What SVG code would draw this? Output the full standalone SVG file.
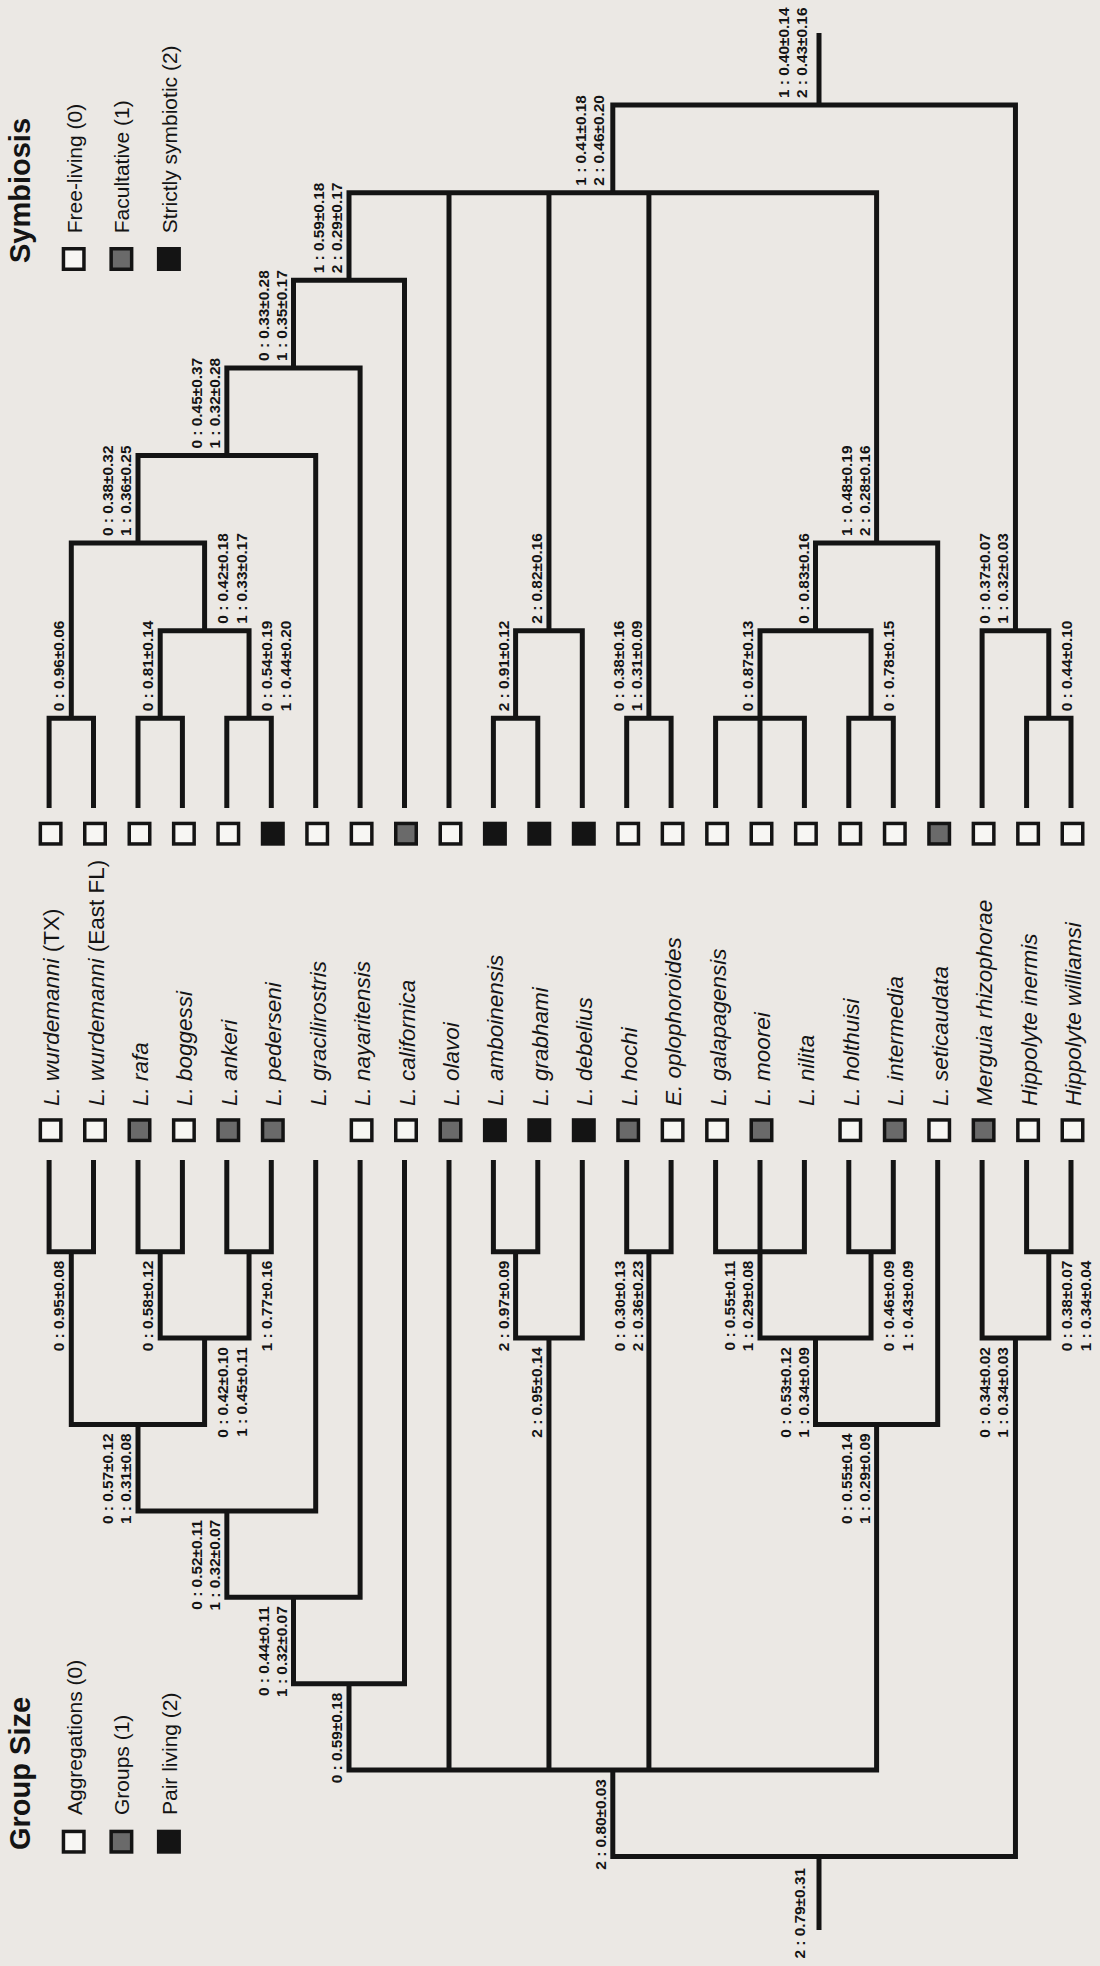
<svg xmlns="http://www.w3.org/2000/svg" width="1100" height="1966" viewBox="0 0 1100 1966">
<style>
.br{fill:none;stroke:#141414;stroke-width:5;stroke-linejoin:miter;stroke-linecap:butt}
.lt{font-family:"Liberation Sans",Arial,sans-serif;font-weight:bold;font-size:15.4px;fill:#141414}
.tx{font-family:"Liberation Sans",Arial,sans-serif;font-size:22.5px;font-style:italic;fill:#141414}
.up{font-style:normal}
.ttl{font-family:"Liberation Sans",Arial,sans-serif;font-weight:bold;font-size:29px;fill:#141414}
.lg{font-family:"Liberation Sans",Arial,sans-serif;font-size:21px;fill:#141414}
.s0{fill:#f7f6f3;stroke:#141414;stroke-width:3.5}
.s1{fill:#6a6a6a;stroke:#141414;stroke-width:3.5}
.s2{fill:#141414;stroke:#141414;stroke-width:3.5}
</style>
<rect x="0" y="0" width="1100" height="1966" fill="#ebe8e4"/>

<!-- Legends -->
<g id="legend-symbiosis">
<text class="ttl" transform="translate(29.8,263) rotate(-90)">Symbiosis</text>
<rect class="s0" x="63.45" y="248.75" width="20.5" height="20.5"/>
<rect class="s1" x="111.15" y="248.75" width="20.5" height="20.5"/>
<rect class="s2" x="158.65" y="248.75" width="20.5" height="20.5"/>
<text class="lg" transform="translate(81.5,233.3) rotate(-90)">Free-living (0)</text>
<text class="lg" transform="translate(129.4,233.3) rotate(-90)">Facultative (1)</text>
<text class="lg" transform="translate(177,233.3) rotate(-90)">Strictly symbiotic (2)</text>
</g>
<g id="legend-groupsize">
<text class="ttl" transform="translate(29.8,1850) rotate(-90)">Group Size</text>
<rect class="s0" x="63.45" y="1831.45" width="20.5" height="20.5"/>
<rect class="s1" x="111.15" y="1831.45" width="20.5" height="20.5"/>
<rect class="s2" x="158.65" y="1831.45" width="20.5" height="20.5"/>
<text class="lg" transform="translate(81.5,1815) rotate(-90)">Aggregations (0)</text>
<text class="lg" transform="translate(129.4,1815) rotate(-90)">Groups (1)</text>
<text class="lg" transform="translate(177,1815) rotate(-90)">Pair living (2)</text>
</g>

<!-- Connectors: symbiosis tree (top) and group size tree (bottom) -->
<g id="connectors">
<g id="tree-symbiosis">
<path class="br" d="M49.1 808V718.3H93.5V808"/>
<path class="br" d="M138 808V718.3H182.4V808"/>
<path class="br" d="M226.8 808V718.3H271.3V808"/>
<path class="br" d="M160.2 718.3V630.7H249.05V718.3"/>
<path class="br" d="M71.3 718.3V543.1H204.6V630.7"/>
<path class="br" d="M138 543.1V455.5H315.7V808"/>
<path class="br" d="M226.85 455.5V367.9H360.1V808"/>
<path class="br" d="M293.5 367.9V280.3H404.5V808"/>
<path class="br" d="M493.4 808V718.3H537.8V808"/>
<path class="br" d="M515.6 718.3V630.7H582.3V808"/>
<path class="br" d="M626.7 808V718.3H671.1V808"/>
<path class="br" d="M715.6 808V718.3H804.4V808M760 808V718.3"/>
<path class="br" d="M848.8 808V718.3H893.3V808"/>
<path class="br" d="M760 718.3V630.7H871.05V718.3"/>
<path class="br" d="M815.5 630.7V543.1H937.7V808"/>
<path class="br" d="M349 280.3V192.7H876.6V543.1M449 808V192.7M548.95 630.7V192.7M648.9 718.3V192.7"/>
<path class="br" d="M1026.6 808V718.3H1071V808"/>
<path class="br" d="M982.1 808V630.7H1048.8V718.3"/>
<path class="br" d="M612.8 192.7V105.1H1015.45V630.7M819 105.1V33"/>
</g>
<g id="tree-groupsize">
<path class="br" d="M49.1 1160V1251.7H93.5V1160"/>
<path class="br" d="M138 1160V1251.7H182.4V1160"/>
<path class="br" d="M226.8 1160V1251.7H271.3V1160"/>
<path class="br" d="M160.2 1251.7V1338.1H249.05V1251.7"/>
<path class="br" d="M71.3 1251.7V1424.5H204.6V1338.1"/>
<path class="br" d="M138 1424.5V1510.9H315.7V1160"/>
<path class="br" d="M226.85 1510.9V1597.3H360.1V1160"/>
<path class="br" d="M293.5 1597.3V1683.7H404.5V1160"/>
<path class="br" d="M493.4 1160V1251.7H537.8V1160"/>
<path class="br" d="M515.6 1251.7V1338.1H582.3V1160"/>
<path class="br" d="M626.7 1160V1251.7H671.1V1160"/>
<path class="br" d="M715.6 1160V1251.7H804.4V1160M760 1160V1251.7"/>
<path class="br" d="M848.8 1160V1251.7H893.3V1160"/>
<path class="br" d="M760 1251.7V1338.1H871.05V1251.7"/>
<path class="br" d="M815.5 1338.1V1424.5H937.7V1160"/>
<path class="br" d="M349 1683.7V1770.1H876.6V1424.5M449 1160V1770.1M548.95 1338.1V1770.1M648.9 1251.7V1770.1"/>
<path class="br" d="M1026.6 1160V1251.7H1071V1160"/>
<path class="br" d="M982.1 1160V1338.1H1048.8V1251.7"/>
<path class="br" d="M612.8 1770.1V1856.5H1015.45V1338.1M819 1856.5V1930"/>
</g>
</g>

<!-- Node value labels: symbiosis -->
<g id="labels-symbiosis" class="lt">
<text transform="translate(64.3,711.3) rotate(-90)">0 : 0.96±0.06</text>
<text transform="translate(153.2,711.3) rotate(-90)">0 : 0.81±0.14</text>
<text transform="translate(272.05,711.3) rotate(-90)">0 : 0.54±0.19</text>
<text transform="translate(291.05,711.3) rotate(-90)">1 : 0.44±0.20</text>
<text transform="translate(227.6,623.7) rotate(-90)">0 : 0.42±0.18</text>
<text transform="translate(246.6,623.7) rotate(-90)">1 : 0.33±0.17</text>
<text transform="translate(113,536.1) rotate(-90)">0 : 0.38±0.32</text>
<text transform="translate(131,536.1) rotate(-90)">1 : 0.36±0.25</text>
<text transform="translate(201.85,448.5) rotate(-90)">0 : 0.45±0.37</text>
<text transform="translate(219.85,448.5) rotate(-90)">1 : 0.32±0.28</text>
<text transform="translate(268.5,360.9) rotate(-90)">0 : 0.33±0.28</text>
<text transform="translate(286.5,360.9) rotate(-90)">1 : 0.35±0.17</text>
<text transform="translate(324,273.3) rotate(-90)">1 : 0.59±0.18</text>
<text transform="translate(342,273.3) rotate(-90)">2 : 0.29±0.17</text>
<text transform="translate(508.6,711.3) rotate(-90)">2 : 0.91±0.12</text>
<text transform="translate(541.95,623.7) rotate(-90)">2 : 0.82±0.16</text>
<text transform="translate(623.9,711.3) rotate(-90)">0 : 0.38±0.16</text>
<text transform="translate(641.9,711.3) rotate(-90)">1 : 0.31±0.09</text>
<text transform="translate(753,711.3) rotate(-90)">0 : 0.87±0.13</text>
<text transform="translate(894.05,711.3) rotate(-90)">0 : 0.78±0.15</text>
<text transform="translate(808.5,623.7) rotate(-90)">0 : 0.83±0.16</text>
<text transform="translate(851.6,536.1) rotate(-90)">1 : 0.48±0.19</text>
<text transform="translate(869.6,536.1) rotate(-90)">2 : 0.28±0.16</text>
<text transform="translate(586,185.7) rotate(-90)">1 : 0.41±0.18</text>
<text transform="translate(604,185.7) rotate(-90)">2 : 0.46±0.20</text>
<text transform="translate(1071.8,711.3) rotate(-90)">0 : 0.44±0.10</text>
<text transform="translate(990.45,623.7) rotate(-90)">0 : 0.37±0.07</text>
<text transform="translate(1008.45,623.7) rotate(-90)">1 : 0.32±0.03</text>
<text transform="translate(789,98.1) rotate(-90)">1 : 0.40±0.14</text>
<text transform="translate(807,98.1) rotate(-90)">2 : 0.43±0.16</text>
</g>

<!-- Node value labels: group size -->
<g id="labels-groupsize" class="lt" text-anchor="end">
<text transform="translate(64.3,1260.7) rotate(-90)">0 : 0.95±0.08</text>
<text transform="translate(153.2,1260.7) rotate(-90)">0 : 0.58±0.12</text>
<text transform="translate(272.05,1260.7) rotate(-90)">1 : 0.77±0.16</text>
<text transform="translate(227.6,1347.1) rotate(-90)">0 : 0.42±0.10</text>
<text transform="translate(246.6,1347.1) rotate(-90)">1 : 0.45±0.11</text>
<text transform="translate(113,1433.5) rotate(-90)">0 : 0.57±0.12</text>
<text transform="translate(131,1433.5) rotate(-90)">1 : 0.31±0.08</text>
<text transform="translate(201.85,1519.9) rotate(-90)">0 : 0.52±0.11</text>
<text transform="translate(219.85,1519.9) rotate(-90)">1 : 0.32±0.07</text>
<text transform="translate(268.5,1606.3) rotate(-90)">0 : 0.44±0.11</text>
<text transform="translate(286.5,1606.3) rotate(-90)">1 : 0.32±0.07</text>
<text transform="translate(342,1692.7) rotate(-90)">0 : 0.59±0.18</text>
<text transform="translate(508.6,1260.7) rotate(-90)">2 : 0.97±0.09</text>
<text transform="translate(541.95,1347.1) rotate(-90)">2 : 0.95±0.14</text>
<text transform="translate(625,1260.7) rotate(-90)">0 : 0.30±0.13</text>
<text transform="translate(643,1260.7) rotate(-90)">2 : 0.36±0.23</text>
<text transform="translate(735,1260.7) rotate(-90)">0 : 0.55±0.11</text>
<text transform="translate(753,1260.7) rotate(-90)">1 : 0.29±0.08</text>
<text transform="translate(894.05,1260.7) rotate(-90)">0 : 0.46±0.09</text>
<text transform="translate(913.05,1260.7) rotate(-90)">1 : 0.43±0.09</text>
<text transform="translate(790.5,1347.1) rotate(-90)">0 : 0.53±0.12</text>
<text transform="translate(808.5,1347.1) rotate(-90)">1 : 0.34±0.09</text>
<text transform="translate(851.6,1433.5) rotate(-90)">0 : 0.55±0.14</text>
<text transform="translate(869.6,1433.5) rotate(-90)">1 : 0.29±0.09</text>
<text transform="translate(605.8,1779.1) rotate(-90)">2 : 0.80±0.03</text>
<text transform="translate(1071.8,1260.7) rotate(-90)">0 : 0.38±0.07</text>
<text transform="translate(1090.8,1260.7) rotate(-90)">1 : 0.34±0.04</text>
<text transform="translate(990.45,1347.1) rotate(-90)">0 : 0.34±0.02</text>
<text transform="translate(1008.45,1347.1) rotate(-90)">1 : 0.34±0.03</text>
<text transform="translate(805,1868) rotate(-90)">2 : 0.79±0.31</text>
</g>

<!-- Taxa -->
<g id="taxon-0"><rect class="s0" x="40.35" y="823.45" width="20.5" height="20.5"/><rect class="s0" x="40.35" y="1119.95" width="20.5" height="20.5"/><text class="tx" transform="translate(59.1,1106) rotate(-90)">L. wurdemanni<tspan class="up"> (TX)</tspan></text></g>
<g id="taxon-1"><rect class="s0" x="84.75" y="823.45" width="20.5" height="20.5"/><rect class="s0" x="84.75" y="1119.95" width="20.5" height="20.5"/><text class="tx" transform="translate(103.5,1106) rotate(-90)">L. wurdemanni<tspan class="up"> (East FL)</tspan></text></g>
<g id="taxon-2"><rect class="s0" x="129.25" y="823.45" width="20.5" height="20.5"/><rect class="s1" x="129.25" y="1119.95" width="20.5" height="20.5"/><text class="tx" transform="translate(148,1106) rotate(-90)">L. rafa</text></g>
<g id="taxon-3"><rect class="s0" x="173.65" y="823.45" width="20.5" height="20.5"/><rect class="s0" x="173.65" y="1119.95" width="20.5" height="20.5"/><text class="tx" transform="translate(192.4,1106) rotate(-90)">L. boggessi</text></g>
<g id="taxon-4"><rect class="s0" x="218.05" y="823.45" width="20.5" height="20.5"/><rect class="s1" x="218.05" y="1119.95" width="20.5" height="20.5"/><text class="tx" transform="translate(236.8,1106) rotate(-90)">L. ankeri</text></g>
<g id="taxon-5"><rect class="s2" x="262.55" y="823.45" width="20.5" height="20.5"/><rect class="s1" x="262.55" y="1119.95" width="20.5" height="20.5"/><text class="tx" transform="translate(281.3,1106) rotate(-90)">L. pederseni</text></g>
<g id="taxon-6"><rect class="s0" x="306.95" y="823.45" width="20.5" height="20.5"/><text class="tx" transform="translate(325.7,1106) rotate(-90)">L. gracilirostris</text></g>
<g id="taxon-7"><rect class="s0" x="351.35" y="823.45" width="20.5" height="20.5"/><rect class="s0" x="351.35" y="1119.95" width="20.5" height="20.5"/><text class="tx" transform="translate(370.1,1106) rotate(-90)">L. nayaritensis</text></g>
<g id="taxon-8"><rect class="s1" x="395.75" y="823.45" width="20.5" height="20.5"/><rect class="s0" x="395.75" y="1119.95" width="20.5" height="20.5"/><text class="tx" transform="translate(414.5,1106) rotate(-90)">L. californica</text></g>
<g id="taxon-9"><rect class="s0" x="440.25" y="823.45" width="20.5" height="20.5"/><rect class="s1" x="440.25" y="1119.95" width="20.5" height="20.5"/><text class="tx" transform="translate(459,1106) rotate(-90)">L. olavoi</text></g>
<g id="taxon-10"><rect class="s2" x="484.65" y="823.45" width="20.5" height="20.5"/><rect class="s2" x="484.65" y="1119.95" width="20.5" height="20.5"/><text class="tx" transform="translate(503.4,1106) rotate(-90)">L. amboinensis</text></g>
<g id="taxon-11"><rect class="s2" x="529.05" y="823.45" width="20.5" height="20.5"/><rect class="s2" x="529.05" y="1119.95" width="20.5" height="20.5"/><text class="tx" transform="translate(547.8,1106) rotate(-90)">L. grabhami</text></g>
<g id="taxon-12"><rect class="s2" x="573.55" y="823.45" width="20.5" height="20.5"/><rect class="s2" x="573.55" y="1119.95" width="20.5" height="20.5"/><text class="tx" transform="translate(592.3,1106) rotate(-90)">L. debelius</text></g>
<g id="taxon-13"><rect class="s0" x="617.95" y="823.45" width="20.5" height="20.5"/><rect class="s1" x="617.95" y="1119.95" width="20.5" height="20.5"/><text class="tx" transform="translate(636.7,1106) rotate(-90)">L. hochi</text></g>
<g id="taxon-14"><rect class="s0" x="662.35" y="823.45" width="20.5" height="20.5"/><rect class="s0" x="662.35" y="1119.95" width="20.5" height="20.5"/><text class="tx" transform="translate(681.1,1106) rotate(-90)">E. oplophoroides</text></g>
<g id="taxon-15"><rect class="s0" x="706.85" y="823.45" width="20.5" height="20.5"/><rect class="s0" x="706.85" y="1119.95" width="20.5" height="20.5"/><text class="tx" transform="translate(725.6,1106) rotate(-90)">L. galapagensis</text></g>
<g id="taxon-16"><rect class="s0" x="751.25" y="823.45" width="20.5" height="20.5"/><rect class="s1" x="751.25" y="1119.95" width="20.5" height="20.5"/><text class="tx" transform="translate(770,1106) rotate(-90)">L. moorei</text></g>
<g id="taxon-17"><rect class="s0" x="795.65" y="823.45" width="20.5" height="20.5"/><text class="tx" transform="translate(814.4,1106) rotate(-90)">L. nilita</text></g>
<g id="taxon-18"><rect class="s0" x="840.05" y="823.45" width="20.5" height="20.5"/><rect class="s0" x="840.05" y="1119.95" width="20.5" height="20.5"/><text class="tx" transform="translate(858.8,1106) rotate(-90)">L. holthuisi</text></g>
<g id="taxon-19"><rect class="s0" x="884.55" y="823.45" width="20.5" height="20.5"/><rect class="s1" x="884.55" y="1119.95" width="20.5" height="20.5"/><text class="tx" transform="translate(903.3,1106) rotate(-90)">L. intermedia</text></g>
<g id="taxon-20"><rect class="s1" x="928.95" y="823.45" width="20.5" height="20.5"/><rect class="s0" x="928.95" y="1119.95" width="20.5" height="20.5"/><text class="tx" transform="translate(947.7,1106) rotate(-90)">L. seticaudata</text></g>
<g id="taxon-21"><rect class="s0" x="973.35" y="823.45" width="20.5" height="20.5"/><rect class="s1" x="973.35" y="1119.95" width="20.5" height="20.5"/><text class="tx" transform="translate(992.1,1106) rotate(-90)">Merguia rhizophorae</text></g>
<g id="taxon-22"><rect class="s0" x="1017.85" y="823.45" width="20.5" height="20.5"/><rect class="s0" x="1017.85" y="1119.95" width="20.5" height="20.5"/><text class="tx" transform="translate(1036.6,1106) rotate(-90)">Hippolyte inermis</text></g>
<g id="taxon-23"><rect class="s0" x="1062.25" y="823.45" width="20.5" height="20.5"/><rect class="s0" x="1062.25" y="1119.95" width="20.5" height="20.5"/><text class="tx" transform="translate(1081,1106) rotate(-90)">Hippolyte williamsi</text></g>
</svg>
